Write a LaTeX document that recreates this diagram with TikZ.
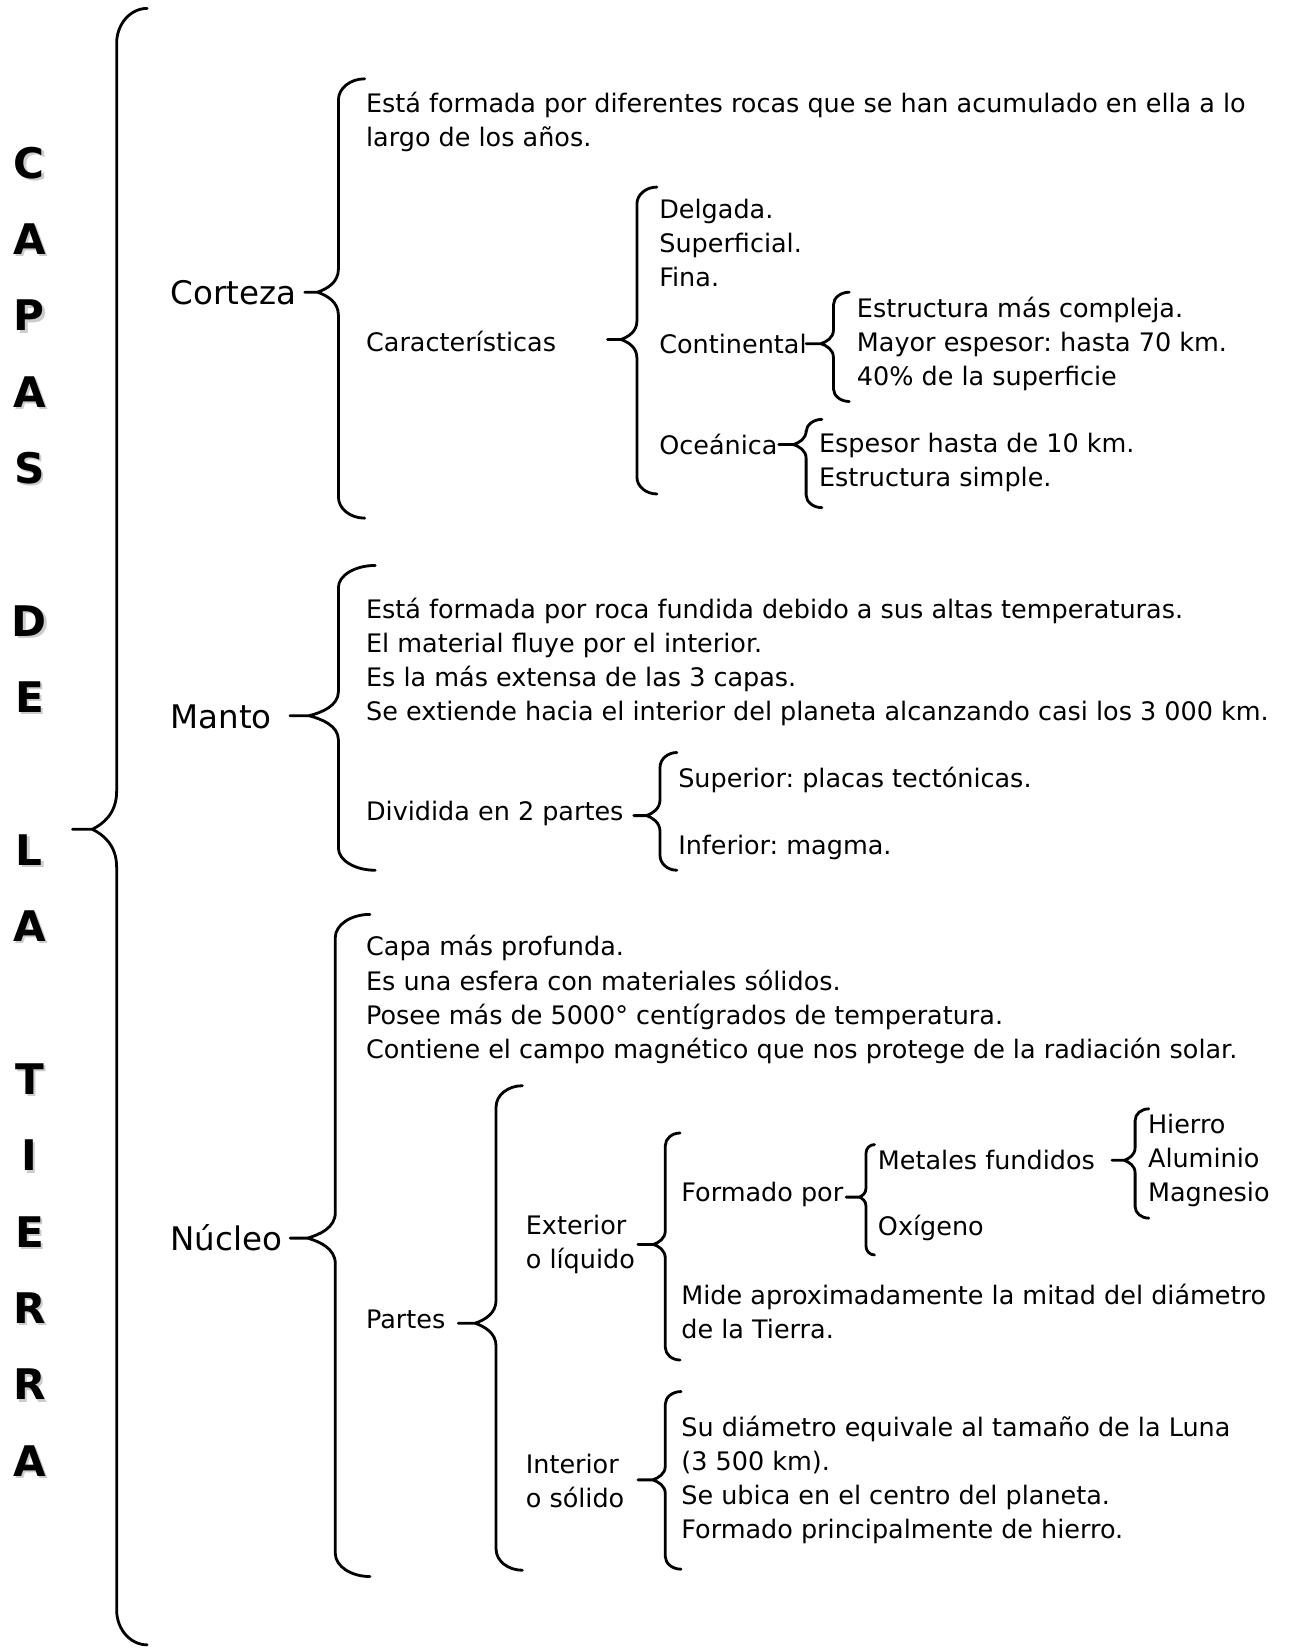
\documentclass[tikz,border=0pt]{standalone}
\usepackage{fontspec}
\setmainfont{DejaVu Sans}
\frenchspacing

\tikzset{
  trazo/.style={line width=1.6pt,line join=round,line cap=round},
  texto/.style={anchor=west,inner sep=0pt,align=left,font=\fontsize{14.5}{19.4}\selectfont},
  capa/.style={anchor=west,inner sep=0pt,font=\fontsize{18.5}{22}\selectfont},
  letra/.style={inner sep=0pt,font=\fontsize{24}{28}\selectfont\bfseries}
}
% llave: x recta, ancho, alto de la curva, arriba, punta, abajo, x de la cola
\newcommand{\llave}[7]{%
  \draw[trazo] ({#1+#2},#4) .. controls ({#1+0.45*#2},#4) and (#1,{#4+0.45*#3}) .. (#1,{#4+#3})
    -- (#1,{#5-1.1*#3})
    .. controls (#1,{#5-0.45*#3}) and ({#1-0.45*#2},{#5-0.15*#3}) .. ({#1-0.8*#2},#5)
    -- (#7,#5) -- ({#1-0.8*#2},#5)
    .. controls ({#1-0.45*#2},{#5+0.15*#3}) and (#1,{#5+0.45*#3}) .. (#1,{#5+1.1*#3})
    -- (#1,{#6-#3})
    .. controls (#1,{#6-0.45*#3}) and ({#1+0.45*#2},#6) .. ({#1+#2},#6);}

\begin{document}
\begin{tikzpicture}[x=0.021026cm,y=-0.021026cm]
\useasboundingbox (0,0) rectangle (1228,1568);

% titulo vertical
\foreach \l/\k in {C/0,A/1,P/2,A/3,S/4,D/6,E/7,L/9,A/10,T/12,I/13,E/14,R/15,R/16,A/17}{
  \node[letra,text=gray!40] at ({30},{157+72.65*\k}) {\l};
  \node[letra] (tit\k) at ({28},{155+72.65*\k}) {\l};
}
\llave{111}{29}{33}{8}{789}{1565}{69}

% corteza
\node[capa] (corteza) at (162,278) {Corteza};
\node[texto] (cz1) at (348,116) {Está formada por diferentes rocas que se han acumulado en ella a lo\\largo de los años.};
\node[texto] (carac) at (348,325) {Características};
\node[texto] (cz2) at (627,231) {Delgada.\\Superficial.\\Fina.};
\node[texto] (conti) at (627,327) {Continental};
\node[texto] (cz3) at (815,327) {Estructura más compleja.\\Mayor espesor: hasta 70 km.\\40\% de la superficie};
\node[texto] (ocea) at (627,423) {Oceánica};
\node[texto] (cz4) at (779,440) {Espesor hasta de 10 km.\\Estructura simple.};

\llave{322}{25}{20}{75}{278}{493}{290}
\llave{606}{19}{16}{178}{323}{470}{578}
\llave{793}{15}{12}{278}{327}{382}{767}
\llave{767}{15}{12}{399}{423}{483}{741}

% manto
\node[capa] (manto) at (162,682) {Manto};
\node[texto] (mt1) at (348,630) {Está formada por roca fundida debido a sus altas temperaturas.\\El material fluye por el interior.\\Es la más extensa de las 3 capas.\\Se extiende hacia el interior del planeta alcanzando casi los 3 000 km.};
\node[texto] (divid) at (348,774) {Dividida en 2 partes};
\node[texto] (sup) at (645,742) {Superior: placas tectónicas.};
\node[texto] (inf) at (645,806) {Inferior: magma.};

\llave{322}{35}{21}{538}{681}{828}{276}
\llave{628}{16}{14}{716}{776}{828}{603}

% nucleo
\node[capa] (nucleo) at (162,1178) {Núcleo};
\node[texto] (nc1) at (348,951) {Capa más profunda.\\Es una esfera con materiales sólidos.\\Posee más de 5000° centígrados de temperatura.\\Contiene el campo magnético que nos protege de la radiación solar.};
\node[texto] (partes) at (348,1255) {Partes};
\node[texto] (exter) at (500,1184) {Exterior\\o líquido};
\node[texto] (formado) at (648,1136) {Formado por};
\node[texto] (metales) at (835,1104) {Metales fundidos};
\node[texto] (oxig) at (835,1168) {Oxígeno};
\node[texto] (metal) at (1092,1104) {Hierro\\Aluminio\\Magnesio};
\node[texto] (mide) at (648,1248) {Mide aproximadamente la mitad del diámetro\\de la Tierra.};
\node[texto] (inter) at (500,1409) {Interior\\o sólido};
\node[texto] (intxt) at (648,1408) {Su diámetro equivale al tamaño de la Luna\\(3 500 km).\\Se ubica en el centro del planeta.\\Formado principalmente de hierro.};

\llave{319}{33}{22}{870}{1178}{1500}{276}
\llave{472}{25}{20}{1033}{1259}{1494}{436}
\llave{633}{14}{12}{1078}{1184}{1294}{607}
\llave{824}{8}{8}{1089}{1139}{1194}{805}
\llave{1080}{13}{11}{1055}{1104}{1159}{1058}
\llave{633}{15}{12}{1324}{1408}{1493}{607}
\end{tikzpicture}
\end{document}
